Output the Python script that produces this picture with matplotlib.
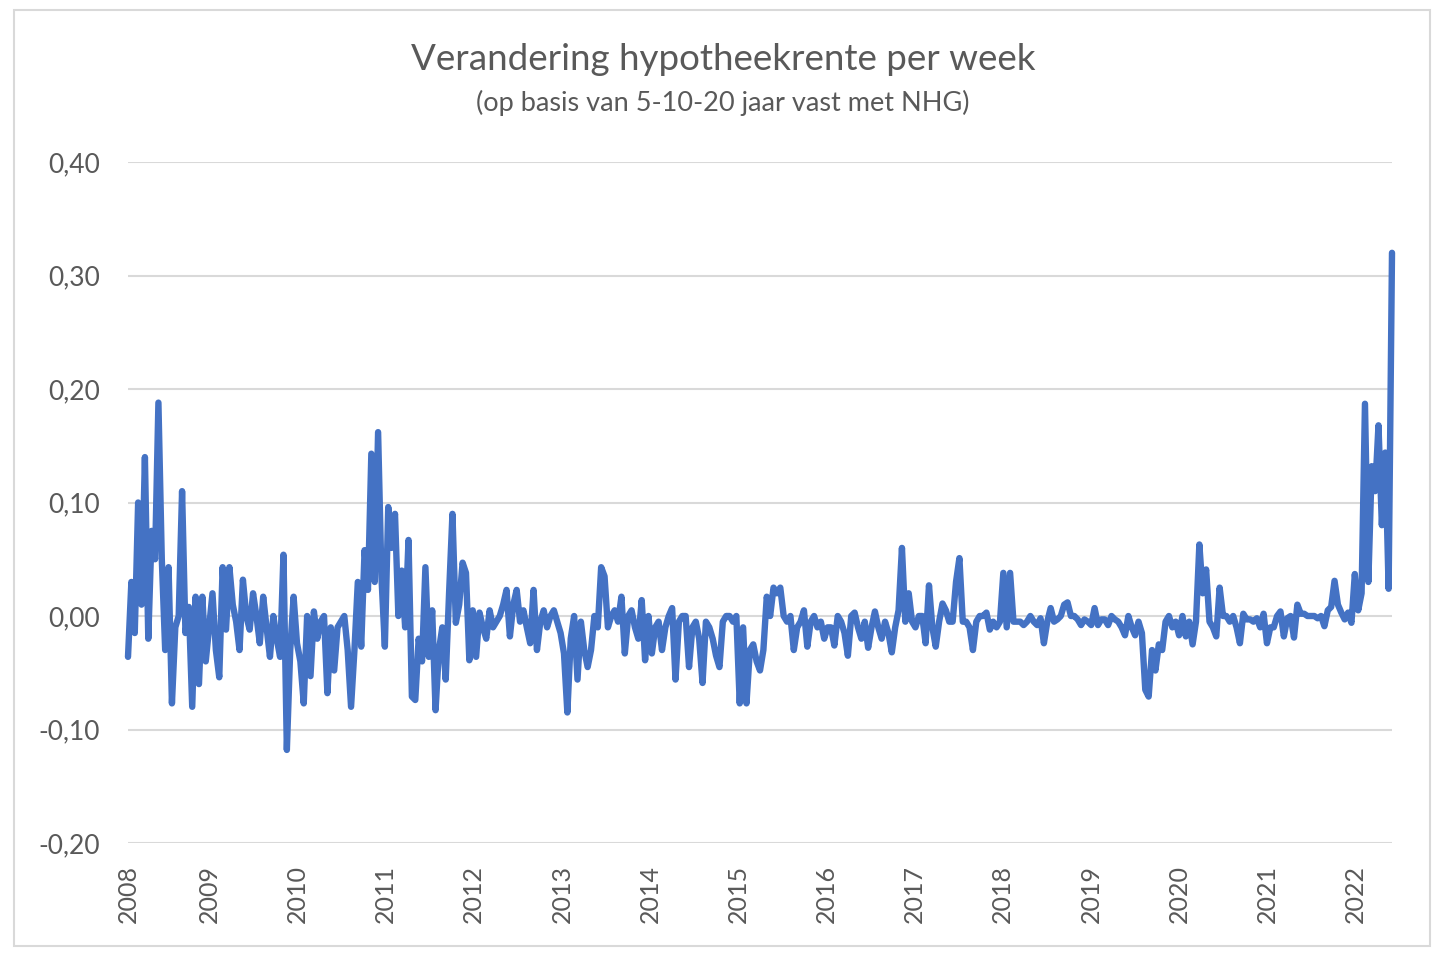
import matplotlib
matplotlib.use("Agg")
import matplotlib.pyplot as plt
import pandas as pd
from matplotlib.patches import Rectangle

# ==================================================
# DATA (change in mortgage rate, two-week steps)
# ==================================================

start_date = "2008-01-30"

change = [
    -0.036, 0.03, -0.015, 0.10, 0.01, 0.14, -0.02, 0.075, 0.05, 0.188, 0.05, -0.03, 0.043,
    -0.077, -0.01, 0.0, 0.11, -0.015, 0.008, -0.08, 0.017, -0.06, 0.017, -0.04, -0.01,
    0.02, -0.03, -0.054, 0.043, -0.012, 0.043, 0.01, -0.005, -0.03, 0.032, 0.0, -0.012, 0.02,
    0.0, -0.024, 0.017, -0.01, -0.036, 0.0, -0.02, -0.036, 0.054, -0.118, -0.03, 0.017,
    -0.024, -0.04, -0.077, 0.0, -0.053, 0.004, -0.02, -0.005, 0.0, -0.068, -0.01, -0.048, -0.01,
    -0.005, 0.0, -0.03, -0.08, -0.03, 0.03, -0.027, 0.058, 0.023, 0.143, 0.03, 0.162,
    0.034, -0.027, 0.096, 0.06, 0.09, 0.0, 0.04, -0.01, 0.067, -0.071, -0.074, -0.02, -0.04,
    0.043, -0.036, 0.005, -0.083, -0.03, -0.01, -0.056, 0.02, 0.09, -0.006, 0.01, 0.047,
    0.038, -0.039, 0.005, -0.036, 0.003, -0.01, -0.02, 0.005, -0.01, -0.005, 0.0, 0.01, 0.023,
    -0.018, 0.01, 0.023, -0.005, 0.005, -0.01, -0.024, 0.023, -0.03, -0.005, 0.005, -0.01,
    0.0, 0.005, -0.005, -0.015, -0.033, -0.085, -0.02, 0.0, -0.056, -0.005, -0.03, -0.045, -0.03,
    0.0, -0.01, 0.043, 0.035, -0.01, 0.0, 0.005, -0.005, 0.017, -0.033, 0.0, 0.005,
    -0.01, -0.02, 0.014, -0.039, 0.0, -0.033, -0.01, -0.005, -0.03, -0.01, 0.0, 0.007, -0.056,
    -0.005, 0.0, 0.0, -0.045, -0.01, -0.005, -0.02, -0.059, -0.005, -0.01, -0.02, -0.035,
    -0.045, -0.005, 0.0, 0.0, -0.005, 0.0, -0.077, -0.01, -0.077, -0.03, -0.025, -0.04, -0.048,
    -0.03, 0.017, 0.0, 0.025, 0.02, 0.025, 0.0, -0.005, 0.0, -0.03, -0.01, -0.005,
    0.005, -0.027, -0.005, 0.0, -0.01, -0.005, -0.02, -0.01, -0.01, -0.026, 0.0, -0.005, -0.015,
    -0.035, 0.0, 0.003, -0.01, -0.02, -0.005, -0.028, -0.01, 0.004, -0.01, -0.02, -0.005,
    -0.015, -0.032, -0.01, 0.005, 0.06, -0.005, 0.02, -0.005, -0.01, 0.0, 0.0, -0.024, 0.027,
    -0.01, -0.027, -0.005, 0.011, 0.005, -0.005, -0.005, 0.03, 0.051, -0.005, -0.005, -0.01,
    -0.03, -0.005, 0.0, 0.0, 0.003, -0.012, -0.005, -0.01, -0.005, 0.038, -0.01, 0.038, -0.005,
    -0.005, -0.005, -0.008, -0.005, 0.0, -0.005, -0.008, -0.002, -0.024, -0.005, 0.007, -0.005,
    -0.003, 0.0, 0.01, 0.012, 0.0, 0.0, -0.003, -0.008, -0.003, -0.005, -0.008, 0.007, -0.008,
    -0.003, -0.003, -0.008, 0.0, -0.003, -0.005, -0.01, -0.017, 0.0, -0.01, -0.017, -0.005,
    -0.015, -0.065, -0.071, -0.03, -0.048, -0.025, -0.03, -0.005, 0.0, -0.01, -0.005, -0.017, 0.0,
    -0.018, -0.005, -0.025, -0.005, 0.063, 0.02, 0.041, -0.005, -0.01, -0.018, 0.025, 0.0,
    0.0, -0.005, 0.0, -0.01, -0.024, 0.002, -0.003, -0.003, -0.005, -0.002, -0.01, 0.002, -0.024,
    -0.01, -0.01, 0.0, 0.004, -0.018, -0.002, 0.0, -0.019, 0.01, 0.002, 0.002, 0.0,
    0.0, 0.0, -0.002, 0.0, -0.009, 0.005, 0.008, 0.031, 0.01, 0.003, -0.003, 0.003, -0.006,
    0.037, 0.005, 0.02, 0.187, 0.03, 0.132, 0.11, 0.168, 0.08, 0.144, 0.024, 0.32,
]

years = list(range(2008, 2023))
y_ticks = [0.40, 0.30, 0.20, 0.10, 0.00, -0.10, -0.20]

title = "Verandering hypotheekrente per week"
subtitle = "(op basis van 5-10-20 jaar vast met NHG)"

# ==================================================
# STYLE
# ==================================================

LINE = "#4472C4"
TEXT = "#595959"
GRID = "#D9D9D9"
plt.rcParams["font.family"] = ["Lato", "DejaVu Sans"]

dates = pd.date_range(start_date, periods=len(change), freq="14D")

fig = plt.figure(figsize=(14.4, 9.6), dpi=100)
fig.patches.append(Rectangle((14 / 1440, 14 / 960), 1416 / 1440, 936 / 960,
                             transform=fig.transFigure, fill=False,
                             edgecolor=GRID, linewidth=1.5))

ax = fig.add_axes([128 / 1440, 1 - 843 / 960, 1264 / 1440, 681 / 960])
ax.plot(dates, change, color=LINE, linewidth=4.6, solid_joinstyle="round",
        solid_capstyle="round", clip_on=False, zorder=3)

ax.set_ylim(-0.20, 0.40)
ax.set_xlim(dates[0], dates[-1])
ax.set_yticks(y_ticks)
ax.set_yticklabels([f"{v:.2f}".replace(".", ",") for v in y_ticks])
ax.grid(axis="y", color=GRID, linewidth=1.5)
ax.set_axisbelow(True)

xt = [dates[0]] + [pd.Timestamp(f"{y}-01-01") for y in years[1:]]
ax.set_xticks(xt)
ax.set_xticklabels([str(y) for y in years], rotation=90)

for s in ax.spines.values():
    s.set_visible(False)
ax.tick_params(axis="y", length=0, pad=20, labelsize=19, labelcolor=TEXT)
ax.tick_params(axis="x", length=0, pad=16, labelsize=18, labelcolor=TEXT)

fig.text(0.502, 1 - 60 / 960, title, ha="center", va="center", fontsize=26.5, color=TEXT)
fig.text(0.502, 1 - 103 / 960, subtitle, ha="center", va="center", fontsize=19.5, color=TEXT)

plt.savefig("out.png", dpi=100)
plt.close()
